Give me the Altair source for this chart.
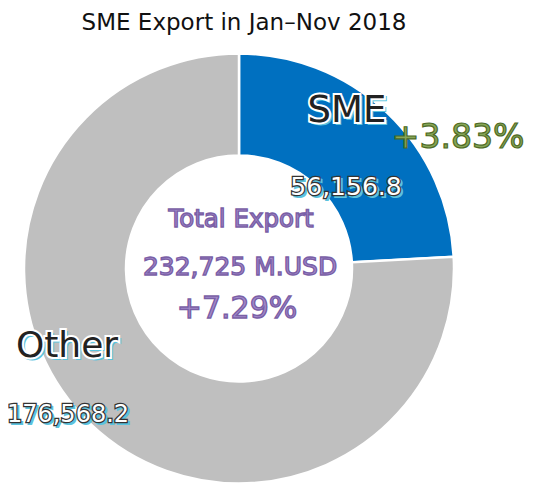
import altair as alt
import pandas as pd

# ---- data ----
categories = ["SME", "Other"]
values = [56156.8, 176568.2]
colors = ["#0070C0", "#BFBFBF"]
title_text = "SME Export in Jan–Nov 2018"
sme_growth = "+3.83%"
total_lines = ["Total Export", "232,725 M.USD", "+7.29%"]

FONT = "DejaVu Sans"
W, H = 517, 477
CX, CY = 231, 260.5

arc_df = pd.DataFrame({"category": categories, "value": values, "order": [0, 1]})

donut = alt.Chart(arc_df).mark_arc(
    outerRadius=215, innerRadius=113, stroke="white", strokeWidth=2.5
).encode(
    theta=alt.Theta("value:Q", stack=True),
    color=alt.Color("category:N", scale=alt.Scale(domain=categories, range=colors), legend=None),
    order=alt.Order("order:Q"),
    x=alt.value(CX),
    y=alt.value(CY),
)


def label(text, x, y, size, fill, stroke=None, stroke_w=0, shadow=None, outline_under=None, outline_w=0, weight="normal"):
    df = pd.DataFrame({"t": [text]})
    layers = []
    base = dict(font=FONT, fontSize=size, align="center", baseline="alphabetic", fontWeight=weight)
    enc = dict(x=alt.value(x), y=alt.value(y), text="t:N")
    if shadow:
        layers.append(alt.Chart(df).mark_text(fill=shadow, stroke=shadow, strokeWidth=2, dx=2, dy=2, **base).encode(**enc))
    if outline_under:
        layers.append(alt.Chart(df).mark_text(fill=outline_under, stroke=outline_under, strokeWidth=outline_w, **base).encode(**enc))
    kw = dict(fill=fill)
    if stroke:
        kw.update(stroke=stroke, strokeWidth=stroke_w)
    layers.append(alt.Chart(df).mark_text(**kw, **base).encode(**enc))
    return layers


CYAN = "#5BC3DE"
PURPLE = "#A38BCB"
PURPLE_DARK = "#7A5FA6"
layers = [donut]
layers += label(title_text, 236, 21.5, 23, "#111111")
layers += label(categories[0], 339, 114, 37, "#222222", shadow=CYAN, outline_under="white", outline_w=4)
layers += label(sme_growth, 450, 140, 33, "#86A657", stroke="#4E6A25", stroke_w=1.2)
layers += label(f"{values[0]:,.1f}", 338, 187, 25, "white", shadow=CYAN, outline_under="#333333", outline_w=2.5)
layers += label(total_lines[0], 233, 219, 24.5, PURPLE, stroke=PURPLE_DARK, stroke_w=1.4)
layers += label(total_lines[1], 232, 267, 25, PURPLE, stroke=PURPLE_DARK, stroke_w=1.4)
layers += label(total_lines[2], 229, 310, 30, PURPLE, stroke=PURPLE_DARK, stroke_w=1.4)
layers += label(categories[1], 59, 349, 36, "#222222", shadow=CYAN, outline_under="white", outline_w=4)
layers += label(f"{values[1]:,.1f}", 60, 414, 24, "white", shadow=CYAN, outline_under="#333333", outline_w=2.5)

chart = alt.layer(*layers).properties(
    width=W, height=H, padding=0, autosize="none"
).configure_view(stroke=None)

chart.save("out.html", embed_options={"renderer": "svg", "actions": False})
